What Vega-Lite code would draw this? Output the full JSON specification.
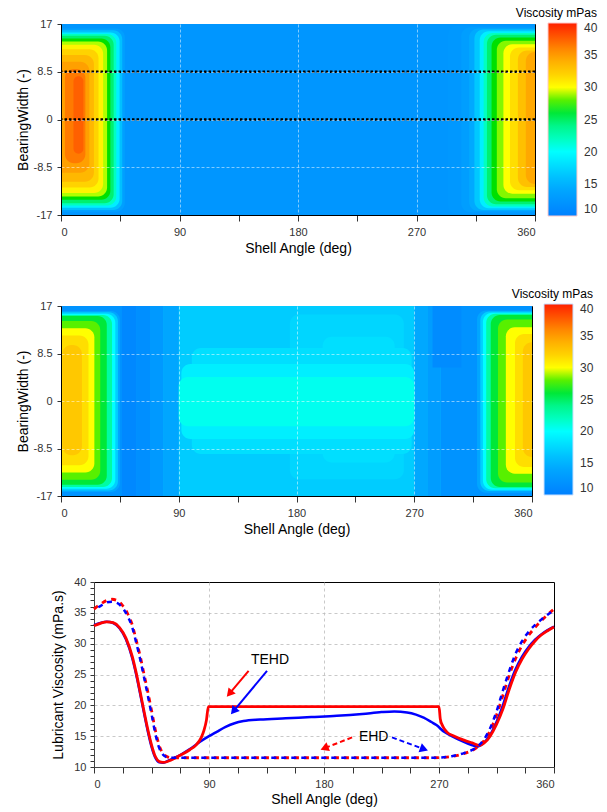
{
"$schema": "https://vega.github.io/schema/vega-lite/v6.json",
"background": "white",
"padding": {"left": 15, "top": 7, "right": 0, "bottom": 0},
"config": {
  "font": "Liberation Sans",
  "view": {"stroke": "#000000", "strokeWidth": 1},
  "axis": {"labelFont": "Liberation Sans", "titleFont": "Liberation Sans", "labelFontSize": 11, "titleFontSize": 14, "titleFontWeight": "normal", "labelColor": "#333333", "titleColor": "#000000", "domainColor": "#000000", "tickColor": "#333333", "labelOverlap": false, "labelBound": false},
  "legend": {"labelFont": "Liberation Sans", "titleFont": "Liberation Sans"}
},
"datasets": {
  "h1bg": [{"a1": 0, "a2": 360, "w1": -17, "w2": 17, "v": 12.3}],
  "h1c": [
    {"a1": -30, "a2": 48.5, "w1": -16.4, "w2": 16.2, "v": 13.3},
    {"a1": -30, "a2": 46.5, "w1": -16.1, "w2": 15.9, "v": 16},
    {"a1": -30, "a2": 44.5, "w1": -15.7, "w2": 15.5, "v": 19},
    {"a1": -30, "a2": 42, "w1": -15.3, "w2": 15.2, "v": 22},
    {"a1": -30, "a2": 40, "w1": -14.9, "w2": 14.9, "v": 25},
    {"a1": -30, "a2": 37.5, "w1": -14.3, "w2": 14.4, "v": 27},
    {"a1": -30, "a2": 35, "w1": -13.7, "w2": 13.9, "v": 29},
    {"a1": -30, "a2": 32, "w1": -13.1, "w2": 13.3, "v": 30.5},
    {"a1": -30, "a2": 28.5, "w1": -12.1, "w2": 12.5, "v": 32},
    {"a1": -30, "a2": 25, "w1": -11.1, "w2": 11.5, "v": 33.5},
    {"a1": -30, "a2": 21.5, "w1": -9.5, "w2": 10.3, "v": 35},
    {"a1": 3, "a2": 18.5, "w1": -7.8, "w2": 9, "v": 36.5},
    {"a1": 9.5, "a2": 17, "w1": -6.1, "w2": 7.7, "v": 37.5},
    {"a1": 294, "a2": 390, "w1": -16.8, "w2": 16.7, "v": 12.55},
    {"a1": 304, "a2": 390, "w1": -16.5, "w2": 16.4, "v": 13.1},
    {"a1": 310, "a2": 390, "w1": -16.3, "w2": 16.2, "v": 14.3},
    {"a1": 314, "a2": 390, "w1": -16.1, "w2": 16, "v": 16.5},
    {"a1": 318, "a2": 390, "w1": -15.8, "w2": 15.7, "v": 19},
    {"a1": 321, "a2": 390, "w1": -15.5, "w2": 15.4, "v": 22},
    {"a1": 323.5, "a2": 390, "w1": -15.1, "w2": 15.1, "v": 25},
    {"a1": 327, "a2": 390, "w1": -14.6, "w2": 14.6, "v": 27},
    {"a1": 331, "a2": 390, "w1": -14.0, "w2": 14.0, "v": 28.5},
    {"a1": 336, "a2": 390, "w1": -13.2, "w2": 13.4, "v": 30},
    {"a1": 341, "a2": 390, "w1": -12.6, "w2": 12.8, "v": 31.5},
    {"a1": 347, "a2": 390, "w1": -12.0, "w2": 12.3, "v": 33},
    {"a1": 353, "a2": 390, "w1": -11.5, "w2": 12.0, "v": 34.5}
  ],
  "dots": [{"w": 8.5}, {"w": 0}],
  "h2s": [
    {"a1": 0, "a2": 360, "w1": -17, "w2": 17, "v": 16.8},
    {"a1": 0, "a2": 46, "w1": -17, "w2": 17, "v": 12},
    {"a1": 46, "a2": 58, "w1": -17, "w2": 17, "v": 10.8},
    {"a1": 58, "a2": 68, "w1": -17, "w2": 17, "v": 11.6},
    {"a1": 68, "a2": 78, "w1": -17, "w2": 17, "v": 12.6},
    {"a1": 78, "a2": 90, "w1": -17, "w2": 17, "v": 14},
    {"a1": 270, "a2": 280, "w1": -17, "w2": 17, "v": 14.2},
    {"a1": 280, "a2": 290, "w1": -17, "w2": 17, "v": 13},
    {"a1": 290, "a2": 360, "w1": -17, "w2": 17, "v": 12},
    {"a1": 284, "a2": 306, "w1": 6, "w2": 17, "v": 11.2}
  ],
  "h2c": [
    {"a1": -30, "a2": 45, "w1": -16.3, "w2": 16.1, "v": 14},
    {"a1": -30, "a2": 43.5, "w1": -16, "w2": 15.9, "v": 17},
    {"a1": -30, "a2": 41.5, "w1": -15.7, "w2": 15.6, "v": 20},
    {"a1": -30, "a2": 39, "w1": -15.4, "w2": 15.4, "v": 23},
    {"a1": -30, "a2": 35, "w1": -15.0, "w2": 15.2, "v": 26},
    {"a1": -30, "a2": 30, "w1": -14.1, "w2": 14.3, "v": 28},
    {"a1": -30, "a2": 25.5, "w1": -12.8, "w2": 13.0, "v": 30},
    {"a1": -30, "a2": 21, "w1": -11.5, "w2": 11.7, "v": 31.5},
    {"a1": 1, "a2": 16, "w1": -9.7, "w2": 10, "v": 32.5},
    {"a1": 318, "a2": 390, "w1": -16.4, "w2": 16.2, "v": 14},
    {"a1": 320.5, "a2": 390, "w1": -16.1, "w2": 16, "v": 17},
    {"a1": 322.5, "a2": 390, "w1": -15.9, "w2": 15.8, "v": 20},
    {"a1": 325, "a2": 390, "w1": -15.6, "w2": 15.6, "v": 23},
    {"a1": 328.5, "a2": 390, "w1": -15.4, "w2": 15.4, "v": 26},
    {"a1": 334, "a2": 390, "w1": -14.6, "w2": 14.6, "v": 28},
    {"a1": 340, "a2": 390, "w1": -13, "w2": 13.2, "v": 30},
    {"a1": 347, "a2": 390, "w1": -11.8, "w2": 12, "v": 31.5},
    {"a1": 353, "a2": 390, "w1": -10, "w2": 10.5, "v": 32.5},
    {"a1": 175, "a2": 262, "w1": -14, "w2": 15.5, "v": 17.4},
    {"a1": 100, "a2": 268, "w1": -9.5, "w2": 9.5, "v": 18.0},
    {"a1": 200, "a2": 255, "w1": -11, "w2": 11.5, "v": 18.0},
    {"a1": 92, "a2": 270, "w1": -6.8, "w2": 6.6, "v": 19.0},
    {"a1": 90, "a2": 270, "w1": -4.5, "w2": 4.3, "v": 20.5}
  ],
  "lines": [
    {"s": "tr", "a": 0, "v": 32.9}, {"s": "tr", "a": 5, "v": 33.3}, {"s": "tr", "a": 10, "v": 33.55}, {"s": "tr", "a": 15, "v": 33.4}, {"s": "tr", "a": 20, "v": 32.6}, {"s": "tr", "a": 25, "v": 30.9}, {"s": "tr", "a": 30, "v": 27.9}, {"s": "tr", "a": 33, "v": 25.3}, {"s": "tr", "a": 36, "v": 22.3}, {"s": "tr", "a": 39, "v": 19.2}, {"s": "tr", "a": 42, "v": 16.2}, {"s": "tr", "a": 45, "v": 13.6}, {"s": "tr", "a": 48, "v": 11.7}, {"s": "tr", "a": 51, "v": 10.9}, {"s": "tr", "a": 54, "v": 10.75}, {"s": "tr", "a": 57, "v": 10.85}, {"s": "tr", "a": 60, "v": 11.1}, {"s": "tr", "a": 67.5, "v": 11.9}, {"s": "tr", "a": 75, "v": 12.8}, {"s": "tr", "a": 80, "v": 13.6}, {"s": "tr", "a": 84, "v": 14.8}, {"s": "tr", "a": 86, "v": 15.9}, {"s": "tr", "a": 88, "v": 17.6}, {"s": "tr", "a": 89.5, "v": 19.8}, {"s": "tr", "a": 180, "v": 19.8}, {"s": "tr", "a": 270, "v": 19.8}, {"s": "tr", "a": 271, "v": 17.8}, {"s": "tr", "a": 273, "v": 16.6}, {"s": "tr", "a": 276, "v": 15.7}, {"s": "tr", "a": 282, "v": 15.0}, {"s": "tr", "a": 289, "v": 14.4}, {"s": "tr", "a": 296, "v": 13.9}, {"s": "tr", "a": 302, "v": 13.5}, {"s": "tr", "a": 306, "v": 14.0}, {"s": "tr", "a": 310, "v": 15.0}, {"s": "tr", "a": 315, "v": 16.9}, {"s": "tr", "a": 320, "v": 19.4}, {"s": "tr", "a": 325, "v": 22.6}, {"s": "tr", "a": 330, "v": 25.4}, {"s": "tr", "a": 335, "v": 27.5}, {"s": "tr", "a": 340, "v": 29.1}, {"s": "tr", "a": 345, "v": 30.4}, {"s": "tr", "a": 350, "v": 31.4}, {"s": "tr", "a": 355, "v": 32.1}, {"s": "tr", "a": 360, "v": 32.7},
    {"s": "tb", "a": 0, "v": 33.0}, {"s": "tb", "a": 5, "v": 33.35}, {"s": "tb", "a": 10, "v": 33.55}, {"s": "tb", "a": 15, "v": 33.35}, {"s": "tb", "a": 20, "v": 32.5}, {"s": "tb", "a": 25, "v": 30.7}, {"s": "tb", "a": 30, "v": 27.6}, {"s": "tb", "a": 33, "v": 25.0}, {"s": "tb", "a": 36, "v": 22.0}, {"s": "tb", "a": 39, "v": 18.9}, {"s": "tb", "a": 42, "v": 15.9}, {"s": "tb", "a": 45, "v": 13.3}, {"s": "tb", "a": 48, "v": 11.5}, {"s": "tb", "a": 51, "v": 10.75}, {"s": "tb", "a": 54, "v": 10.7}, {"s": "tb", "a": 57, "v": 10.9}, {"s": "tb", "a": 60, "v": 11.2}, {"s": "tb", "a": 67.5, "v": 11.95}, {"s": "tb", "a": 75, "v": 12.9}, {"s": "tb", "a": 83, "v": 14.1}, {"s": "tb", "a": 90, "v": 15.0}, {"s": "tb", "a": 96, "v": 15.7}, {"s": "tb", "a": 103, "v": 16.5}, {"s": "tb", "a": 110, "v": 17.1}, {"s": "tb", "a": 117, "v": 17.45}, {"s": "tb", "a": 130, "v": 17.7}, {"s": "tb", "a": 150, "v": 17.9}, {"s": "tb", "a": 170, "v": 18.1}, {"s": "tb", "a": 190, "v": 18.3}, {"s": "tb", "a": 210, "v": 18.6}, {"s": "tb", "a": 225, "v": 18.9}, {"s": "tb", "a": 235, "v": 19.0}, {"s": "tb", "a": 245, "v": 18.85}, {"s": "tb", "a": 252, "v": 18.5}, {"s": "tb", "a": 258, "v": 18.0}, {"s": "tb", "a": 264, "v": 17.3}, {"s": "tb", "a": 268, "v": 16.8}, {"s": "tb", "a": 274, "v": 15.7}, {"s": "tb", "a": 280, "v": 15.0}, {"s": "tb", "a": 289, "v": 14.1}, {"s": "tb", "a": 295, "v": 13.6}, {"s": "tb", "a": 300, "v": 13.3}, {"s": "tb", "a": 305, "v": 13.9}, {"s": "tb", "a": 310, "v": 15.2}, {"s": "tb", "a": 315, "v": 17.3}, {"s": "tb", "a": 320, "v": 20.0}, {"s": "tb", "a": 325, "v": 23.2}, {"s": "tb", "a": 330, "v": 25.9}, {"s": "tb", "a": 335, "v": 27.9}, {"s": "tb", "a": 340, "v": 29.4}, {"s": "tb", "a": 345, "v": 30.6}, {"s": "tb", "a": 350, "v": 31.5}, {"s": "tb", "a": 355, "v": 32.2}, {"s": "tb", "a": 360, "v": 32.75},
    {"s": "er", "a": 0, "v": 35.6}, {"s": "er", "a": 5, "v": 36.4}, {"s": "er", "a": 10, "v": 37.0}, {"s": "er", "a": 14, "v": 37.2}, {"s": "er", "a": 18, "v": 37.0}, {"s": "er", "a": 22, "v": 36.3}, {"s": "er", "a": 26, "v": 35.0}, {"s": "er", "a": 30, "v": 33.0}, {"s": "er", "a": 33, "v": 30.6}, {"s": "er", "a": 36, "v": 28.1}, {"s": "er", "a": 39, "v": 25.2}, {"s": "er", "a": 42, "v": 22.3}, {"s": "er", "a": 45, "v": 19.2}, {"s": "er", "a": 48, "v": 16.0}, {"s": "er", "a": 51, "v": 13.5}, {"s": "er", "a": 54, "v": 12.2}, {"s": "er", "a": 57, "v": 11.7}, {"s": "er", "a": 60, "v": 11.5}, {"s": "er", "a": 180, "v": 11.5}, {"s": "er", "a": 265, "v": 11.5}, {"s": "er", "a": 272, "v": 11.55}, {"s": "er", "a": 280, "v": 11.7}, {"s": "er", "a": 290, "v": 12.2}, {"s": "er", "a": 300, "v": 13.2}, {"s": "er", "a": 305, "v": 14.2}, {"s": "er", "a": 310, "v": 15.9}, {"s": "er", "a": 315, "v": 18.4}, {"s": "er", "a": 320, "v": 21.6}, {"s": "er", "a": 325, "v": 24.9}, {"s": "er", "a": 330, "v": 27.6}, {"s": "er", "a": 335, "v": 29.7}, {"s": "er", "a": 340, "v": 31.3}, {"s": "er", "a": 345, "v": 32.6}, {"s": "er", "a": 350, "v": 33.7}, {"s": "er", "a": 355, "v": 34.7}, {"s": "er", "a": 360, "v": 35.6},
    {"s": "eb", "a": 0, "v": 35.5}, {"s": "eb", "a": 5, "v": 36.1}, {"s": "eb", "a": 10, "v": 36.7}, {"s": "eb", "a": 14, "v": 36.8}, {"s": "eb", "a": 18, "v": 36.6}, {"s": "eb", "a": 22, "v": 35.9}, {"s": "eb", "a": 26, "v": 34.6}, {"s": "eb", "a": 30, "v": 32.6}, {"s": "eb", "a": 33, "v": 30.2}, {"s": "eb", "a": 36, "v": 27.6}, {"s": "eb", "a": 39, "v": 24.7}, {"s": "eb", "a": 42, "v": 21.7}, {"s": "eb", "a": 45, "v": 18.6}, {"s": "eb", "a": 48, "v": 15.4}, {"s": "eb", "a": 51, "v": 13.1}, {"s": "eb", "a": 54, "v": 12.0}, {"s": "eb", "a": 57, "v": 11.6}, {"s": "eb", "a": 60, "v": 11.5}, {"s": "eb", "a": 180, "v": 11.5}, {"s": "eb", "a": 265, "v": 11.5}, {"s": "eb", "a": 272, "v": 11.55}, {"s": "eb", "a": 280, "v": 11.75}, {"s": "eb", "a": 290, "v": 12.3}, {"s": "eb", "a": 300, "v": 13.3}, {"s": "eb", "a": 305, "v": 14.4}, {"s": "eb", "a": 310, "v": 16.3}, {"s": "eb", "a": 315, "v": 19.0}, {"s": "eb", "a": 320, "v": 22.4}, {"s": "eb", "a": 325, "v": 25.6}, {"s": "eb", "a": 330, "v": 28.4}, {"s": "eb", "a": 335, "v": 30.4}, {"s": "eb", "a": 340, "v": 31.9}, {"s": "eb", "a": 345, "v": 33.0}, {"s": "eb", "a": 350, "v": 33.9}, {"s": "eb", "a": 355, "v": 34.7}, {"s": "eb", "a": 360, "v": 35.4}
  ],
  "arrows": [
    {"k": "tr", "a": 121, "v": 25.6, "a2": 106, "v2": 21.9},
    {"k": "tb", "a": 135.4, "v": 25.6, "a2": 109.2, "v2": 19.05},
    {"k": "er", "a": 202, "v": 14.8, "a2": 180.3, "v2": 13.05},
    {"k": "eb", "a": 233.2, "v": 14.8, "a2": 258.3, "v2": 12.9}
  ],
  "heads": [
    {"k": "tr", "a": 106, "v": 21.9},
    {"k": "tb", "a": 109.2, "v": 19.05},
    {"k": "er", "a": 180.3, "v": 13.05},
    {"k": "eb", "a": 258.3, "v": 12.9}
  ],
  "labels": [
    {"t": "TEHD", "a": 137.7, "v": 27.35},
    {"t": "EHD", "a": 218.9, "v": 14.8}
  ],
  "spacer": [{"z": 0}]
},
"vconcat": [
  {
    "vconcat": [
      {
        "width": 474, "height": 191,
        "layer": [
          {
            "data": {"name": "h1bg"},
            "mark": {"type": "rect", "clip": true},
            "encoding": {
              "x": {"field": "a1", "type": "quantitative", "title": "Shell Angle (deg)", "scale": {"domain": [0, 360], "nice": false, "zero": false},
                "axis": {"values": [0,22.5,45,67.5,90,112.5,135,157.5,180,202.5,225,247.5,270,292.5,315,337.5,360], "labelExpr": "datum.value % 90 == 0 ? datum.label : ''", "tickSize": 6, "labelPadding": 5, "titlePadding": 4, "grid": true, "gridColor": "#ffffff", "gridDash": [3, 2], "gridOpacity": {"condition": {"test": "datum.value % 90 == 0 && datum.value > 0 && datum.value < 360", "value": 0.5}, "value": 0}, "zindex": 1}},
              "x2": {"field": "a2"},
              "y": {"field": "w1", "type": "quantitative", "title": "BearingWidth (-)", "scale": {"domain": [-17, 17], "nice": false, "zero": false},
                "axis": {"values": [-17,-14.875,-12.75,-10.625,-8.5,-6.375,-4.25,-2.125,0,2.125,4.25,6.375,8.5,10.625,12.75,14.875,17], "labelExpr": "abs(datum.value) % 8.5 == 0 ? (datum.value < 0 ? '-' + abs(datum.value) : '' + datum.value) : ''", "tickSize": 4, "labelPadding": 5, "titlePadding": 3, "grid": true, "gridColor": "#ffffff", "gridDash": [3, 2], "gridOpacity": {"condition": {"test": "abs(datum.value) % 8.5 == 0 && abs(datum.value) < 17", "value": 0.5}, "value": 0}, "zindex": 1}},
              "y2": {"field": "w2"},
              "color": {"field": "v", "type": "quantitative",
                "scale": {"domain": [10, 15, 20, 22.5, 25, 27, 29, 30, 32.5, 35, 37.5, 40], "range": ["#0080ff", "#00b0ff", "#00ffff", "#00ffb0", "#00f070", "#00e000", "#b0ff00", "#ffff00", "#ffc800", "#ffa000", "#ff6000", "#ff2000"], "interpolate": "rgb"},
                "legend": {"orient": "none", "legendX": 455, "legendY": -16, "direction": "vertical", "title": "Viscosity mPas", "titleFontSize": 12, "titleFontWeight": "normal", "titleColor": "#000000", "titleAnchor": "end", "titlePadding": 3, "gradientLength": 193, "gradientThickness": 29, "gradientStrokeColor": "#ffc8c8", "gradientStrokeWidth": 1, "values": [10, 15, 20, 25, 30, 35, 40], "labelFontSize": 12, "labelColor": "#333333", "labelOffset": 7, "padding": 0}}
            }
          },
          {
            "data": {"name": "h1c"},
            "mark": {"type": "rect", "clip": true, "cornerRadius": 9},
            "encoding": {
              "x": {"field": "a1", "type": "quantitative", "title": "Shell Angle (deg)"},
              "x2": {"field": "a2"},
              "y": {"field": "w1", "type": "quantitative", "title": "BearingWidth (-)"},
              "y2": {"field": "w2"},
              "color": {"field": "v", "type": "quantitative"}
            }
          },
          {
            "data": {"name": "dots"},
            "mark": {"type": "rule", "color": "#000000", "strokeDash": [2.5, 2], "strokeWidth": 2.5},
            "encoding": {"y": {"field": "w", "type": "quantitative", "title": "BearingWidth (-)"}}
          }
        ]
      },
      {
        "width": 471, "height": 190,
        "layer": [
          {
            "data": {"name": "h2s"},
            "mark": {"type": "rect", "clip": true},
            "encoding": {
              "x": {"field": "a1", "type": "quantitative", "title": "Shell Angle (deg)", "scale": {"domain": [0, 360], "nice": false, "zero": false},
                "axis": {"values": [0,22.5,45,67.5,90,112.5,135,157.5,180,202.5,225,247.5,270,292.5,315,337.5,360], "labelExpr": "datum.value % 90 == 0 ? datum.label : ''", "tickSize": 6, "labelPadding": 5, "titlePadding": 4, "grid": true, "gridColor": "#ffffff", "gridDash": [3, 2], "gridOpacity": {"condition": {"test": "datum.value % 90 == 0 && datum.value > 0 && datum.value < 360", "value": 0.5}, "value": 0}, "zindex": 1}},
              "x2": {"field": "a2"},
              "y": {"field": "w1", "type": "quantitative", "title": "BearingWidth (-)", "scale": {"domain": [-17, 17], "nice": false, "zero": false},
                "axis": {"values": [-17,-14.875,-12.75,-10.625,-8.5,-6.375,-4.25,-2.125,0,2.125,4.25,6.375,8.5,10.625,12.75,14.875,17], "labelExpr": "abs(datum.value) % 8.5 == 0 ? (datum.value < 0 ? '-' + abs(datum.value) : '' + datum.value) : ''", "tickSize": 4, "labelPadding": 5, "titlePadding": 3, "grid": true, "gridColor": "#ffffff", "gridDash": [3, 2], "gridOpacity": {"condition": {"test": "abs(datum.value) % 8.5 == 0 && abs(datum.value) < 17", "value": 0.5}, "value": 0}, "zindex": 1}},
              "y2": {"field": "w2"},
              "color": {"field": "v", "type": "quantitative",
                "scale": {"domain": [10, 15, 20, 22.5, 25, 27, 29, 30, 32.5, 35, 37.5, 40], "range": ["#0080ff", "#00b0ff", "#00ffff", "#00ffb0", "#00f070", "#00e000", "#b0ff00", "#ffff00", "#ffc800", "#ffa000", "#ff6000", "#ff2000"], "interpolate": "rgb"},
                "legend": {"orient": "none", "legendX": 451, "legendY": -17, "direction": "vertical", "title": "Viscosity mPas", "titleFontSize": 12, "titleFontWeight": "normal", "titleColor": "#000000", "titleAnchor": "end", "titlePadding": 3, "gradientLength": 191, "gradientThickness": 29, "gradientStrokeColor": "#c8e0ff", "gradientStrokeWidth": 1, "values": [10, 15, 20, 25, 30, 35, 40], "labelFontSize": 12, "labelColor": "#333333", "labelOffset": 7, "padding": 0}}
            }
          },
          {
            "data": {"name": "h2c"},
            "mark": {"type": "rect", "clip": true, "cornerRadius": 9},
            "encoding": {
              "x": {"field": "a1", "type": "quantitative", "title": "Shell Angle (deg)"},
              "x2": {"field": "a2"},
              "y": {"field": "w1", "type": "quantitative", "title": "BearingWidth (-)"},
              "y2": {"field": "w2"},
              "color": {"field": "v", "type": "quantitative"}
            }
          }
        ]
      }
    ],
    "spacing": 32,
    "resolve": {"scale": {"color": "independent"}, "legend": {"color": "independent"}}
  },
  {
    "hconcat": [
      {
        "width": 33, "height": 185,
        "view": {"stroke": "transparent"},
        "data": {"name": "spacer"},
        "mark": {"type": "rect", "opacity": 0},
        "encoding": {}
      },
      {
        "width": 460, "height": 185,
        "encoding": {
          "x": {"field": "a", "type": "quantitative", "title": "Shell Angle (deg)", "scale": {"domain": [0, 360], "nice": false, "zero": false},
            "axis": {"values": [0,22.5,45,67.5,90,112.5,135,157.5,180,202.5,225,247.5,270,292.5,315,337.5,360], "labelExpr": "datum.value % 90 == 0 ? datum.label : ''", "tickSize": 6, "labelPadding": 5, "titlePadding": 3, "domainColor": "#444444", "grid": true, "gridColor": "#bbbbbb", "gridDash": [3, 3], "gridOpacity": {"condition": {"test": "datum.value % 90 == 0 && datum.value > 0 && datum.value < 360", "value": 0.8}, "value": 0}}},
          "y": {"field": "v", "type": "quantitative", "title": "Lubricant Viscosity (mPa.s)", "scale": {"domain": [10, 40], "nice": false, "zero": false},
            "axis": {"values": [10,11,12,13,14,15,16,17,18,19,20,21,22,23,24,25,26,27,28,29,30,31,32,33,34,35,36,37,38,39,40], "labelExpr": "datum.value % 5 == 0 ? datum.label : ''", "tickSize": 4, "labelPadding": 4, "titlePadding": 8, "domainColor": "#444444", "grid": true, "gridColor": "#bbbbbb", "gridDash": [3, 3], "gridOpacity": {"condition": {"test": "datum.value % 5 == 0 && datum.value > 10 && datum.value < 40", "value": 0.8}, "value": 0}}}
        },
        "layer": [
          {
            "data": {"name": "lines"},
            "transform": [{"filter": "datum.s == 'tb'"}],
            "mark": {"type": "line", "interpolate": "monotone", "color": "#0000ff", "strokeWidth": 2.5}
          },
          {
            "data": {"name": "lines"},
            "transform": [{"filter": "datum.s == 'tr'"}],
            "mark": {"type": "line", "interpolate": "monotone", "color": "#ff0000", "strokeWidth": 2.8}
          },
          {
            "data": {"name": "lines"},
            "transform": [{"filter": "datum.s == 'er'"}],
            "mark": {"type": "line", "interpolate": "monotone", "color": "#ff0000", "strokeWidth": 2.8, "strokeDash": [5, 5]}
          },
          {
            "data": {"name": "lines"},
            "transform": [{"filter": "datum.s == 'eb'"}],
            "mark": {"type": "line", "interpolate": "monotone", "color": "#0000ff", "strokeWidth": 2.5, "strokeDash": [5, 5], "strokeDashOffset": 5}
          },
          {
            "data": {"name": "arrows"},
            "transform": [{"filter": "datum.k == 'tr'"}],
            "mark": {"type": "rule", "color": "#ff0000", "strokeWidth": 2},
            "encoding": {"x2": {"field": "a2"}, "y2": {"field": "v2"}}
          },
          {
            "data": {"name": "arrows"},
            "transform": [{"filter": "datum.k == 'tb'"}],
            "mark": {"type": "rule", "color": "#0000ff", "strokeWidth": 2},
            "encoding": {"x2": {"field": "a2"}, "y2": {"field": "v2"}}
          },
          {
            "data": {"name": "arrows"},
            "transform": [{"filter": "datum.k == 'er'"}],
            "mark": {"type": "rule", "color": "#ff0000", "strokeWidth": 2, "strokeDash": [5, 3]},
            "encoding": {"x2": {"field": "a2"}, "y2": {"field": "v2"}}
          },
          {
            "data": {"name": "arrows"},
            "transform": [{"filter": "datum.k == 'eb'"}],
            "mark": {"type": "rule", "color": "#0000ff", "strokeWidth": 2, "strokeDash": [5, 3]},
            "encoding": {"x2": {"field": "a2"}, "y2": {"field": "v2"}}
          },
          {
            "data": {"name": "heads"},
            "transform": [{"filter": "datum.k == 'tr'"}],
            "mark": {"type": "point", "shape": "triangle-up", "filled": true, "opacity": 1, "size": 90, "color": "#ff0000", "angle": 220.5}
          },
          {
            "data": {"name": "heads"},
            "transform": [{"filter": "datum.k == 'tb'"}],
            "mark": {"type": "point", "shape": "triangle-up", "filled": true, "opacity": 1, "size": 90, "color": "#0000ff", "angle": 219.6}
          },
          {
            "data": {"name": "heads"},
            "transform": [{"filter": "datum.k == 'er'"}],
            "mark": {"type": "point", "shape": "triangle-up", "filled": true, "opacity": 1, "size": 90, "color": "#ff0000", "angle": 248.6}
          },
          {
            "data": {"name": "heads"},
            "transform": [{"filter": "datum.k == 'eb'"}],
            "mark": {"type": "point", "shape": "triangle-up", "filled": true, "opacity": 1, "size": 90, "color": "#0000ff", "angle": 110}
          },
          {
            "data": {"name": "labels"},
            "mark": {"type": "text", "font": "Liberation Sans", "fontSize": 14, "color": "#000000", "align": "center", "baseline": "middle"},
            "encoding": {"text": {"field": "t"}}
          }
        ]
      }
    ],
    "spacing": 0,
    "bounds": "flush"
  }
],
"spacing": 38,
"align": "none",
"resolve": {"scale": {"color": "independent"}, "legend": {"color": "independent"}}
}
